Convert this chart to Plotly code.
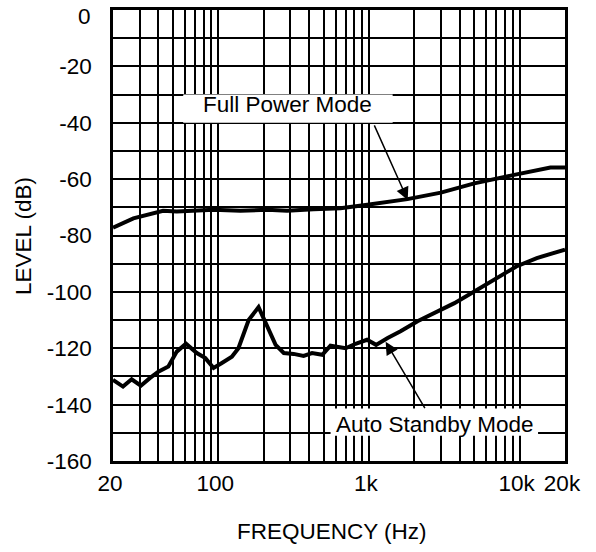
import math
import plotly.graph_objects as go

# ---- data ----
full_freq = [20, 27.3, 43, 53, 93, 140, 212, 286, 428, 646, 975, 1800, 3000, 5000, 9200, 13000, 16000, 20000]
full_level = [-77.2, -73.9, -71.2, -71.5, -70.9, -71.2, -70.9, -71.2, -70.7, -70.3, -69.1, -67.1, -64.8, -61.5, -58.5, -56.7, -55.9, -55.9]

stby_freq = [20, 23.3, 26.6, 30.6, 35.1, 40, 46.6, 53, 61, 72, 82, 93, 105, 123, 136, 159, 185, 210, 240, 272,
             316, 368, 419, 490, 555, 700, 815, 970, 1115, 1330, 1620, 2100, 3000, 3690, 5000, 6680, 9500, 13000, 17000, 20000]
stby_level = [-131.2, -133.6, -131.0, -133.3, -130.6, -128.3, -126.5, -121.2, -118.4, -121.7, -123.5, -127.0, -125.3,
              -123.0, -120.0, -110.0, -105.4, -112.3, -118.8, -121.7, -122.0, -122.7, -121.7, -122.3, -119.1, -120.0,
              -118.4, -117.0, -118.8, -116.4, -114.0, -110.4, -106.4, -104.0, -99.9, -95.7, -91.0, -88.0, -86.0, -85.0]

x_grid = [20, 30, 40, 50, 60, 70, 80, 90, 100, 200, 300, 400, 500, 600, 700, 800, 900,
          1000, 2000, 3000, 4000, 5000, 6000, 7000, 8000, 9000, 10000, 20000]
x_labels = {20: "20", 100: "100", 1000: "1k", 10000: "10k", 20000: "20k"}
y_grid = list(range(-160, 1, 10))
y_labels = [str(v) if v % 20 == 0 else "" for v in y_grid]

FONT = "Liberation Sans, Arial, sans-serif"
FS = 22.5

W, H = 596, 552
L, R, T, B = 113, 31, 10, 91
PW, PH = W - L - R, H - T - B


def px(x):
    return (x - L) / PW


def py(y):
    return 1 - (y - T) / PH


fig = go.Figure()
fig.add_trace(go.Scatter(x=full_freq, y=full_level, mode="lines",
                         line=dict(color="black", width=4), showlegend=False, hoverinfo="skip"))
fig.add_trace(go.Scatter(x=stby_freq, y=stby_level, mode="lines",
                         line=dict(color="black", width=4), showlegend=False, hoverinfo="skip"))

# white label boxes covering grid
fig.add_shape(type="rect", xref="x", yref="y", x0=58.5, x1=1436, y0=-40.0, y1=-30.0,
              fillcolor="white", line=dict(width=0), layer="above")
fig.add_shape(type="rect", xref="x", yref="y", x0=556, x1=13250, y0=-151.0, y1=-141.4,
              fillcolor="white", line=dict(width=0), layer="above")

fig.add_annotation(x=math.log10(287.6), y=-33.7, xref="x", yref="y", text="Full Power Mode",
                   showarrow=False, font=dict(family=FONT, size=FS, color="black"))
fig.add_annotation(x=math.log10(2734), y=-146.9, xref="x", yref="y", text="Auto Standby Mode",
                   showarrow=False, font=dict(family=FONT, size=FS, color="black"))

# arrows
fig.add_annotation(x=math.log10(1808), y=-67.4, xref="x", yref="y",
                   ax=math.log10(1074), ay=-40.4, axref="x", ayref="y", text="",
                   showarrow=True, arrowhead=2, arrowsize=1.7, arrowwidth=1.5, arrowcolor="black")
fig.add_annotation(x=math.log10(1290), y=-117.7, xref="x", yref="y",
                   ax=math.log10(2381), ay=-141.8, axref="x", ayref="y", text="",
                   showarrow=True, arrowhead=2, arrowsize=1.7, arrowwidth=1.5, arrowcolor="black")

# top y label ("0") sits slightly below its gridline in the reference
top_label = y_labels[-1]
y_ticktext = y_labels[:-1] + [""]
fig.add_annotation(xref="paper", yref="paper", x=px(93), y=py(16), xanchor="right", yanchor="middle",
                   text=top_label, showarrow=False, font=dict(family=FONT, size=FS, color="black"))

# axis titles
fig.add_annotation(xref="paper", yref="paper", x=px(332), y=py(531), xanchor="center", yanchor="middle",
                   text="FREQUENCY (Hz)", showarrow=False,
                   font=dict(family=FONT, size=FS, color="black"))
fig.add_annotation(xref="paper", yref="paper", x=px(23), y=py(236), xanchor="center", yanchor="middle",
                   text="LEVEL (dB)", textangle=-90, showarrow=False,
                   font=dict(family=FONT, size=FS, color="black"))

fig.update_xaxes(type="log", range=[math.log10(20), math.log10(20000)],
                 tickmode="array", tickvals=x_grid, ticktext=[x_labels.get(v, "") for v in x_grid],
                 showgrid=True, gridcolor="black", gridwidth=1.6,
                 showline=True, linecolor="black", linewidth=2.5, mirror=True,
                 ticks="", ticklabelstandoff=0, ticklabelshift=-3, zeroline=False, automargin=False,
                 ticklabeloverflow="allow",
                 tickfont=dict(family=FONT, size=FS, color="black"))
fig.update_yaxes(range=[-160, 0], tickmode="array", tickvals=y_grid, ticktext=y_ticktext,
                 showgrid=True, gridcolor="black", gridwidth=1.6,
                 showline=True, linecolor="black", linewidth=2.5, mirror=True,
                 ticks="", ticklabelstandoff=14, zeroline=False, automargin=False,
                 ticklabeloverflow="allow",
                 tickfont=dict(family=FONT, size=FS, color="black"))

fig.update_layout(width=W, height=H, margin=dict(l=L, r=R, t=T, b=B, autoexpand=False),
                  plot_bgcolor="white", paper_bgcolor="white", showlegend=False)

fig.write_html("out.html", config={"displayModeBar": False},
               post_script="document.body.style.margin='0';document.body.style.overflow='hidden';")
